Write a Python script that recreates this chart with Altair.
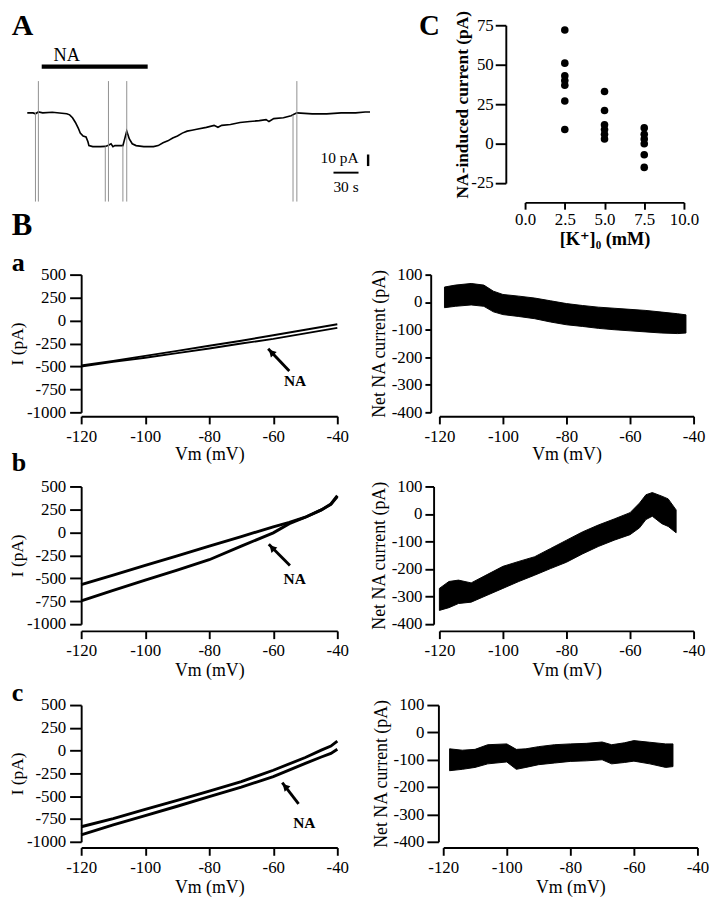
import altair as alt
import pandas as pd

FONT = "Liberation Serif, DejaVu Serif"
NEG = "(datum.value < 0 ? '-' : '') + format(abs(datum.value), 'd')"

# ---------------- Panel A : holding current (pA) vs time (s) ----------------
a_time = [0, 6.9, 9.8, 13.3, 18.5, 30, 41.5, 47.3, 50.8, 54.2, 57.7, 61.2, 63.5, 66.9,
          70.4, 72.7, 73.9, 78.5, 87.7, 93.5, 97.3, 100.4, 102.7, 105, 110.8, 114.6,
          119.2, 122.3, 125.8, 130.4, 139.6, 151.2, 156.9, 162.7, 168.5, 174.3, 180,
          185.8, 191.6, 197.3, 203.1, 214.6, 223.9, 228.5, 233.1, 243.5, 255, 266.6,
          278.1, 286.2, 289.7, 295.4, 307, 316.2, 318.5, 323.1, 341.6, 358.9, 376.2,
          393.5, 405, 410.8]
a_curr = [0, 0, -0.8, 0.8, 0, 0.5, -0.3, -0.8, -1.7, -4.2, -8.3, -13.3, -17.5, -20,
          -20.8, -25, -28.3, -29.2, -29.2, -29, -28, -26.7, -29.2, -28.3, -28.3, -28.3,
          -15.8, -22.5, -26.7, -28.3, -29.2, -29.2, -28.3, -25.8, -24.2, -21.7, -20,
          -17.5, -15.8, -15, -14.2, -12.5, -10.8, -12.5, -10.8, -10, -8.3, -7.5,
          -6.7, -5.8, -7.5, -5, -4.2, -2.5, -1.7, 0, -0.8, -0.8, 0, 0, 0.8, 0.8]
a_spike_time = [9.8, 13.3, 93.5, 97.3, 114.6, 119.2, 318.5, 323.1]
a_spike_top = [0, 27.5, -29, 27.5, -28.3, 27.5, -1.7, 27.5]
a_spike_bottom = [-76.7, -76.7, -76.7, -76.7, -76.7, -76.7, -76.7, -76.7]
a_na_span = [17.3, 144.3]
a_na_level = 40
a_sbar_time = 408.5
a_sbar_pa = [-36, -46]
a_sbar_s = [367, 397]
a_sbar_level = -51.7

# ---------------- Panel C ----------------
c_k = [2.5] * 7 + [5.0] * 6 + [7.5] * 6
c_current = [72, 51, 43, 40, 37, 27, 9, 33, 21, 12, 9, 6, 3, 10, 6, 3, 0, -7, -15]

# ---------------- Panel B : I-V curves ----------------
ba_v = [-120, -110, -100, -90, -80, -70, -60, -50, -40]
ba_ctrl = [-490, -440, -385, -330, -275, -220, -160, -100, -40]
ba_na = [-500, -450, -405, -355, -305, -250, -200, -140, -80]

bb_v = [-120, -110, -100, -90, -80, -70, -60, -55, -50, -45, -42, -40]
bb_ctrl = [-570, -465, -360, -255, -150, -45, 60, 110, 165, 245, 310, 400]
bb_na = [-745, -633, -521, -410, -298, -150, -5, 95, 165, 245, 305, 390]

bc_v = [-120, -110, -100, -90, -80, -70, -60, -50, -45, -42, -40]
bc_ctrl = [-835, -745, -645, -545, -445, -340, -215, -75, 5, 50, 105]
bc_na = [-925, -815, -712, -610, -505, -400, -285, -140, -70, -30, 15]

# net NA current bands (lower / upper envelope of the noisy trace)
ba_net_v = [-118.4, -115, -110, -106, -103, -100, -95, -90, -85, -80, -75, -70, -65, -60, -55, -50, -45, -42.4]
ba_net_lo = [-20, -15, -10, -15, -35, -45, -52, -60, -72, -82, -88, -95, -100, -104, -108, -112, -114, -112]
ba_net_hi = [55, 62, 68, 62, 40, 28, 22, 15, 5, -5, -12, -18, -22, -26, -30, -36, -42, -46]

bb_net_v = [-120, -117, -114, -110, -105, -100, -95, -90, -85, -80, -75, -70, -65, -60, -57, -55, -53, -50, -48, -45.5]
bb_net_lo = [-350, -340, -325, -320, -295, -270, -245, -222, -198, -175, -145, -118, -95, -75, -50, -20, -8, -35, -45, -68]
bb_net_hi = [-270, -245, -240, -250, -220, -190, -172, -155, -125, -95, -65, -40, -18, 5, 40, 70, 78, 65, 55, 15]

bc_net_v = [-118, -114, -110, -106, -100, -97, -94, -90, -85, -80, -75, -70, -67, -63, -60, -55, -50, -47.7]
bc_net_lo = [-140, -135, -128, -115, -108, -135, -128, -118, -112, -106, -104, -100, -115, -110, -105, -115, -128, -125]
bc_net_hi = [-60, -65, -62, -45, -42, -62, -60, -52, -45, -42, -40, -35, -45, -38, -30, -36, -42, -42]

# arrows "NA": tail, tip, arrowhead centre, label (Vm, pA)
ba_arrow = [(-55.0, -549), (-61.6, -308), (-60.6, -345), (-53.2, -664)]
bb_arrow = [(-54.8, -360), (-61.4, -129), (-60.4, -167), (-53.3, -507)]
bc_arrow = [(-52.1, -585), (-57.2, -351), (-56.3, -393), (-50.3, -798)]

VM_TICKS = [-120, -100, -80, -60, -40]
IV_TICKS = [500, 250, 0, -250, -500, -750, -1000]
NET_TICKS = [100, 0, -100, -200, -300, -400]

LAB = 17.5
TIT = 18.5


def text_layer(x, y, label, X, Y, size, weight="normal", align="left", baseline="alphabetic"):
    df = pd.DataFrame({"x": [x], "y": [y], "t": [label]})
    return alt.Chart(df).mark_text(font=FONT, fontSize=size, fontWeight=weight, align=align,
                                   baseline=baseline, color="black").encode(x=X, y=Y, text="t:N")


# ---------------- Panel A chart ----------------
ax = alt.Scale(domain=[64.6, 416.6], nice=False, zero=False)
ay = alt.Scale(domain=[-60.8, 75.8], nice=False, zero=False)
AX = alt.X("x:Q", scale=ax, axis=None)
AY = alt.Y("y:Q", scale=ay, axis=None)

a_trace = alt.Chart(pd.DataFrame({"x": a_time, "y": a_curr})).mark_line(
    color="black", strokeWidth=1.7).encode(x=AX, y=AY)
a_spikes = alt.Chart(pd.DataFrame({"x": a_spike_time, "y": a_spike_top, "y2": a_spike_bottom})).mark_rule(
    color="#8c8c8c", strokeWidth=1).encode(x=AX, y=AY, y2="y2:Q")
a_bar = alt.Chart(pd.DataFrame({"x": [a_na_span[0]], "x2": [a_na_span[1]], "y": [a_na_level]})).mark_rule(
    color="black", strokeWidth=4.5).encode(x=AX, x2="x2:Q", y=AY)
a_vbar = alt.Chart(pd.DataFrame({"x": [a_sbar_time], "y": [a_sbar_pa[0]], "y2": [a_sbar_pa[1]]})).mark_rule(
    color="black", strokeWidth=2.5).encode(x=AX, y=AY, y2="y2:Q")
a_hbar = alt.Chart(pd.DataFrame({"x": [a_sbar_s[0]], "x2": [a_sbar_s[1]], "y": [a_sbar_level]})).mark_rule(
    color="black", strokeWidth=2).encode(x=AX, x2="x2:Q", y=AY)

panel_a = alt.layer(
    a_trace, a_spikes, a_bar, a_vbar, a_hbar,
    text_layer(-18.5, 67.5, "A", AX, AY, 31, "bold"),
    text_layer(-18.5, -105.8, "B", AX, AY, 32, "bold"),
    text_layer(47.3, 45, "NA", AX, AY, 19, align="center"),
    text_layer(397, -43.3, "10 pA", AX, AY, 16, align="right"),
    text_layer(382, -68.3, "30 s", AX, AY, 16, align="center"),
).properties(width=305, height=164)

# ---------------- Panel C chart ----------------
cxs = alt.Scale(domain=[0, 10], nice=False, zero=False)
cys = alt.Scale(domain=[-25, 75], nice=False, zero=False)
cxa = alt.Axis(values=[0, 2.5, 5, 7.5, 10], format=".1f", title="[K\u207a]\u2080 (mM)", offset=20,
               tickSize=7, labelPadding=2, titlePadding=2, titleFontWeight="bold", titleFontSize=19)
cya = alt.Axis(values=[75, 50, 25, 0, -25], labelExpr=NEG, title="NA-induced current (pA)", offset=20,
               tickSize=11, labelPadding=2, titlePadding=-1, titleFontWeight="bold", titleFontSize=18)
CX = alt.X("x:Q", scale=cxs, axis=cxa)
CY = alt.Y("y:Q", scale=cys, axis=cya)
c_points = alt.Chart(pd.DataFrame({"x": c_k, "y": c_current})).mark_circle(
    color="black", opacity=1, size=62).encode(x=CX, y=CY)
panel_c = alt.layer(c_points, text_layer(-6.67, 68.9, "C", CX, CY, 30, "bold")).properties(width=165, height=164)


# ---------------- B panels ----------------
def iv_chart(v, ctrl, na, arrow, letters, h, x_off, y_off, x_lp, x_tp, y_tp, lw):
    xs = alt.Scale(domain=[-120, -40], nice=False, zero=False)
    ys = alt.Scale(domain=[-1000, 500], nice=False, zero=False)
    xa = alt.Axis(values=VM_TICKS, labelExpr=NEG, title="Vm (mV)", offset=x_off, tickSize=8,
                  labelPadding=x_lp, titlePadding=x_tp)
    ya = alt.Axis(values=IV_TICKS, labelExpr=NEG, title="I (pA)", offset=y_off, tickSize=12,
                  labelPadding=4, titlePadding=y_tp, titleFontSize=18)
    X = alt.X("x:Q", scale=xs, axis=xa)
    Y = alt.Y("y:Q", scale=ys, axis=ya)
    df = pd.DataFrame({"x": v + v, "y": ctrl + na,
                       "trace": ["control"] * len(v) + ["NA"] * len(v)})
    lines = alt.Chart(df).mark_line(color="black", strokeWidth=lw).encode(x=X, y=Y, detail="trace:N")
    tail, tip, head, lab = arrow
    shaft = alt.Chart(pd.DataFrame({"x": [tail[0]], "y": [tail[1]], "x2": [tip[0]], "y2": [tip[1]]})).mark_rule(
        color="black", strokeWidth=3).encode(x=X, y=Y, x2="x2:Q", y2="y2:Q")
    arrowhead = alt.Chart(pd.DataFrame({"x": [head[0]], "y": [head[1]]})).mark_point(
        shape="triangle-up", filled=True, opacity=1, color="black", size=70, angle=316).encode(x=X, y=Y)
    layers = [lines, shaft, arrowhead,
              text_layer(lab[0], lab[1], "NA", X, Y, 16, "bold", "center", "middle")]
    for (lx, ly, lt) in letters:
        layers.append(text_layer(lx, ly, lt, X, Y, 27, "bold"))
    return alt.layer(*layers).properties(width=266, height=h)


def net_chart(v, lo, hi, h, w, x_off, y_off, y_tick, x_lp, x_tp):
    xs = alt.Scale(domain=[-120, -40], nice=False, zero=False)
    ys = alt.Scale(domain=[-400, 100], nice=False, zero=False)
    xa = alt.Axis(values=VM_TICKS, labelExpr=NEG, title="Vm (mV)", offset=x_off, tickSize=8,
                  labelPadding=x_lp, titlePadding=x_tp)
    ya = alt.Axis(values=NET_TICKS, labelExpr=NEG, title="Net NA current (pA)", offset=y_off,
                  tickSize=y_tick, labelPadding=3, titlePadding=3)
    df = pd.DataFrame({"x": v, "y": lo, "y2": hi})
    return alt.Chart(df).mark_area(color="black", opacity=1, stroke="black", strokeWidth=1).encode(
        x=alt.X("x:Q", scale=xs, axis=xa), y=alt.Y("y:Q", scale=ys, axis=ya), y2="y2:Q"
    ).properties(width=w, height=h)


ba_left = iv_chart(ba_v, ba_ctrl, ba_na, ba_arrow,
                   [(-141.65, 541, "a"), (-141.65, -1640, "b")],
                   143, 4, 0, 4, 1, 0, 2)
ba_right = net_chart(ba_net_v, ba_net_lo, ba_net_hi, 143, 264, 4, 9, 6, 4, 1)

bb_left = iv_chart(bb_v, bb_ctrl, bb_na, bb_arrow, [], 143, 7, 0, 4, 2, 0, 3)
bb_right = net_chart(bb_net_v, bb_net_lo, bb_net_hi, 143, 264, 7, 6, 9, 4, 2)

bc_left = iv_chart(bc_v, bc_ctrl, bc_na, bc_arrow, [(-141.65, 542, "c")], 142, 6, 0, 4, 2, 0, 3)
bc_right = net_chart(bc_net_v, bc_net_lo, bc_net_hi, 142, 264, 6, 5, 12, 4, 2)

row1 = alt.hconcat(panel_a, panel_c, spacing=45)
row2 = alt.hconcat(ba_left, ba_right, spacing=21)
row3 = alt.hconcat(bb_left, bb_right, spacing=21)
row4 = alt.hconcat(bc_left, bc_right, spacing=23)

chart = alt.vconcat(
    row1, row2, row3, row4, spacing=1,
    padding={"left": 1, "top": -15.5, "right": 0, "bottom": 0},
).configure_axis(
    domainColor="black", domainWidth=2, tickColor="black", tickWidth=2,
    labelFont=FONT, labelFontSize=LAB, labelColor="black", labelFlush=False, labelOverlap=False,
    titleFont=FONT, titleFontSize=TIT, titleColor="black", titleFontWeight="normal", grid=False,
).configure_view(stroke=None)

chart.save("out.html", embed_options={"renderer": "svg", "actions": False})
